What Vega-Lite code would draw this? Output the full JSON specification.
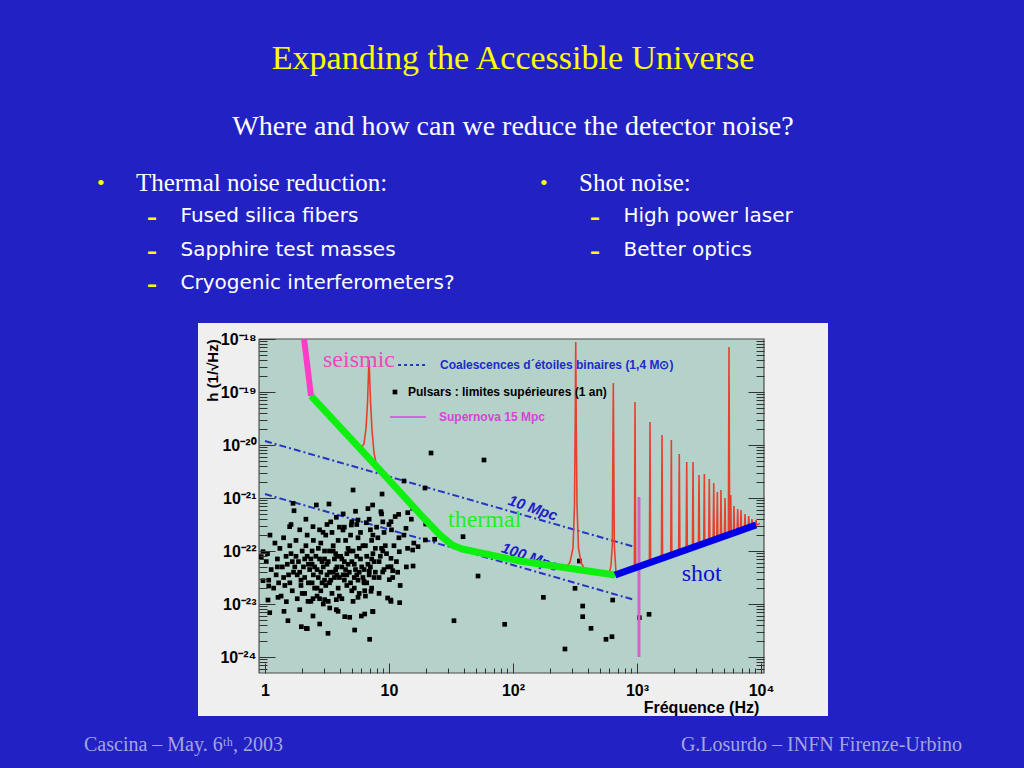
{
"$schema": "https://vega.github.io/schema/vega-lite/v6.json",
"background": "#2222c4",
"padding": {"left": 64, "top": 42, "right": 100, "bottom": 40},
"config": {"view": {"stroke": null}, "font": "Liberation Sans"},
"title": {"text": "Expanding the Accessible Universe", "subtitle": "Where and how can we reduce the detector noise?", "anchor": "middle", "font": "Liberation Serif", "fontSize": 34, "fontWeight": "normal", "color": "#ffff00", "subtitleFont": "Liberation Serif", "subtitleFontSize": 28, "subtitleColor": "#ffffff", "subtitlePadding": 37, "offset": 30},
"spacing": 20,
"center": true,
"bounds": "flush",
"datasets": {
"bullets": [
{"col": "left", "line": 0, "level": 1, "text": "Thermal noise reduction:"},
{"col": "left", "line": 1, "level": 2, "text": "Fused silica fibers"},
{"col": "left", "line": 2, "level": 2, "text": "Sapphire test masses"},
{"col": "left", "line": 3, "level": 2, "text": "Cryogenic interferometers?"},
{"col": "right", "line": 0, "level": 1, "text": "Shot noise:"},
{"col": "right", "line": 1, "level": 2, "text": "High power laser"},
{"col": "right", "line": 2, "level": 2, "text": "Better optics"}
],
"footer": [
{"side": "left", "text": "Cascina – May. 6ᵗʰ, 2003"},
{"side": "right", "text": "G.Losurdo – INFN Firenze-Urbino"}
],
"frame": [{"f0": -0.048, "f1": 4.024, "h0": -24.302, "h1": -18.0}],
"mpc": [
{"dist": "10 Mpc", "logf": 0, "logh": -19.925},
{"dist": "10 Mpc", "logf": 2.984, "logh": -21.925},
{"dist": "100 Mpc", "logf": 0, "logh": -20.925},
{"dist": "100 Mpc", "logf": 2.984, "logh": -22.925}
],
"mpclabels": [
{"label": "10 Mpc", "logf": 2.161, "logh": -21.189},
{"label": "100 Mpc", "logf": 2.137, "logh": -22.113}
],
"pulsars": [
{"logf":1.339,"logh":-20.151},{"logf":1.766,"logh":-20.283},{"logf":1.121,"logh":-20.679},{"logf":1.29,"logh":-20.811},{"logf":0.71,"logh":-20.849},{"logf":0.944,"logh":-20.925},
{"logf":2.535,"logh":-22.189},{"logf":2.5,"logh":-22.704},{"logf":2.245,"logh":-22.874},{"logf":2.562,"logh":-23.038},{"logf":2.804,"logh":-22.925},{"logf":2.562,"logh":-23.239},{"logf":2.629,"logh":-23.459},{"logf":2.75,"logh":-23.666},{"logf":2.798,"logh":-23.617},{"logf":2.419,"logh":-23.849},{"logf":3.097,"logh":-23.194},{"logf":3.019,"logh":-23.258},
{"logf":1.718,"logh":-22.472},{"logf":1.524,"logh":-23.315},{"logf":1.933,"logh":-23.383},{"logf":1.597,"logh":-21.73},{"logf":1.368,"logh":-21.779},{"logf":1.296,"logh":-21.491},{"logf":1.234,"logh":-21.918},{"logf":1.194,"logh":-22.283},{"logf":1.086,"logh":-22.975},{"logf":1.014,"logh":-22.925},{"logf":0.844,"logh":-23.666},{"logf":0.723,"logh":-23.491},{"logf":0.508,"logh":-23.553},{"logf":0.333,"logh":-23.459},{"logf":0.293,"logh":-23.428},{"logf":0.441,"logh":-23.377},{"logf":0.185,"logh":-23.315},{"logf":0.387,"logh":-23.226},{"logf":0.643,"logh":-23.239},{"logf":0.683,"logh":-23.251},{"logf":0.777,"logh":-23.226},{"logf":0.804,"logh":-23.189},{"logf":0.871,"logh":-23.145},{"logf":0.038,"logh":-23.164},{"logf":0.105,"logh":-22.874},{"logf":0.024,"logh":-22.925},{"logf":0.172,"logh":-22.956},{"logf":-0.016,"logh":-22.56},{"logf":0.03,"logh":-22.66},{"logf":-0.03,"logh":-22.107},{"logf":-0.016,"logh":-22.013},
{"logf":0.226,"logh":-21.1},{"logf":0.234,"logh":-21.24},{"logf":0.414,"logh":-21.132},{"logf":0.516,"logh":-21.113},{"logf":0.575,"logh":-21.364},{"logf":0.199,"logh":-21.541},{"logf":0.387,"logh":-21.541},{"logf":0.468,"logh":-21.647},{"logf":0.629,"logh":-21.604},{"logf":0.696,"logh":-21.509},{"logf":0.75,"logh":-21.415},{"logf":0.817,"logh":-21.466},
{"logf":0.868,"logh":-21.132},{"logf":0.935,"logh":-21.258},{"logf":1.078,"logh":-21.308},{"logf":1.151,"logh":-21.277},{"logf":1.191,"logh":-21.194},{"logf":1.016,"logh":-21.447},{"logf":1.137,"logh":-21.572},{"logf":1.293,"logh":-21.792},{"logf":1.191,"logh":-21.981},{"logf":1.083,"logh":-22.013},{"logf":1.016,"logh":-22.138},{"logf":1.016,"logh":-22.296},
{"logf":0.841,"logh":-22.383},{"logf":0.949,"logh":-22.396},{"logf":1.03,"logh":-22.372},{"logf":1.003,"logh":-22.541},{"logf":0.855,"logh":-22.76},{"logf":0.989,"logh":-22.887},{"logf":1.016,"logh":-22.95},{"logf":0.868,"logh":-23.138},
{"logf":0.153,"logh":-23.138},{"logf":0.28,"logh":-23.107},{"logf":0.341,"logh":-23.465},{"logf":0.575,"logh":-22.918},{"logf":0.575,"logh":-23.107},{"logf":0.75,"logh":-22.874},{"logf":0.804,"logh":-22.749},{"logf":0.798,"logh":-22.572},{"logf":0.347,"logh":-22.95},{"logf":0.387,"logh":-22.899},{"logf":0.481,"logh":-22.918},{"logf":0.522,"logh":-23.075},{"logf":0.589,"logh":-23.138},
{"logf":0.02,"logh":-22.05},{"logf":0.05,"logh":-22.35},{"logf":0.08,"logh":-21.85},{"logf":0.03,"logh":-22.55},{"logf":0.07,"logh":-22.7},{"logf":0.01,"logh":-22.2},{"logf":0.09,"logh":-22.45},{"logf":0.04,"logh":-21.7},{"logf":0.1,"logh":-22.15},
{"logf":0.12,"logh":-21.95},{"logf":0.14,"logh":-22.3},{"logf":0.17,"logh":-22.1},{"logf":0.11,"logh":-22.6},{"logf":0.19,"logh":-22.45},{"logf":0.15,"logh":-21.75},{"logf":0.13,"logh":-22.85},{"logf":0.18,"logh":-22.25},{"logf":0.16,"logh":-22.65},{"logf":0.2,"logh":-21.9},
{"logf":0.21,"logh":-22.05},{"logf":0.23,"logh":-22.4},{"logf":0.25,"logh":-21.8},{"logf":0.27,"logh":-22.2},{"logf":0.29,"logh":-22.55},{"logf":0.22,"logh":-22.75},{"logf":0.26,"logh":-22.9},{"logf":0.28,"logh":-21.6},{"logf":0.24,"logh":-22.3},{"logf":0.3,"logh":-22.0},{"logf":0.21,"logh":-21.5},{"logf":0.29,"logh":-22.65},{"logf":0.25,"logh":-22.1},
{"logf":0.31,"logh":-22.3},{"logf":0.33,"logh":-21.9},{"logf":0.35,"logh":-22.6},{"logf":0.37,"logh":-22.15},{"logf":0.39,"logh":-22.45},{"logf":0.32,"logh":-22.8},{"logf":0.34,"logh":-21.7},{"logf":0.36,"logh":-22.35},{"logf":0.38,"logh":-22.0},{"logf":0.4,"logh":-22.7},{"logf":0.33,"logh":-21.4},{"logf":0.37,"logh":-22.95},{"logf":0.39,"logh":-21.8},{"logf":0.32,"logh":-22.5},{"logf":0.38,"logh":-22.25},
{"logf":0.41,"logh":-22.1},{"logf":0.43,"logh":-22.5},{"logf":0.45,"logh":-21.85},{"logf":0.47,"logh":-22.3},{"logf":0.49,"logh":-22.65},{"logf":0.42,"logh":-22.85},{"logf":0.44,"logh":-21.6},{"logf":0.46,"logh":-22.2},{"logf":0.48,"logh":-22.0},{"logf":0.5,"logh":-22.45},{"logf":0.45,"logh":-22.75},{"logf":0.43,"logh":-21.95},{"logf":0.47,"logh":-23.0},{"logf":0.49,"logh":-21.7},{"logf":0.42,"logh":-22.35},{"logf":0.48,"logh":-22.55},{"logf":0.44,"logh":-22.9},{"logf":0.5,"logh":-21.5},
{"logf":0.51,"logh":-22.2},{"logf":0.53,"logh":-22.55},{"logf":0.55,"logh":-21.9},{"logf":0.57,"logh":-22.35},{"logf":0.59,"logh":-22.7},{"logf":0.52,"logh":-22.0},{"logf":0.54,"logh":-21.65},{"logf":0.56,"logh":-22.15},{"logf":0.58,"logh":-22.45},{"logf":0.6,"logh":-22.85},{"logf":0.51,"logh":-22.95},{"logf":0.53,"logh":-21.45},{"logf":0.57,"logh":-22.05},{"logf":0.59,"logh":-21.8},{"logf":0.52,"logh":-22.6},{"logf":0.58,"logh":-22.3},{"logf":0.54,"logh":-22.8},{"logf":0.6,"logh":-21.55},{"logf":0.55,"logh":-22.4},
{"logf":0.61,"logh":-22.1},{"logf":0.63,"logh":-22.45},{"logf":0.65,"logh":-21.8},{"logf":0.67,"logh":-22.25},{"logf":0.69,"logh":-22.6},{"logf":0.62,"logh":-22.9},{"logf":0.64,"logh":-21.55},{"logf":0.66,"logh":-22.05},{"logf":0.68,"logh":-22.4},{"logf":0.7,"logh":-22.75},{"logf":0.63,"logh":-21.3},{"logf":0.67,"logh":-21.95},{"logf":0.69,"logh":-21.7},{"logf":0.62,"logh":-22.3},{"logf":0.66,"logh":-22.65},{"logf":0.64,"logh":-22.2},{"logf":0.7,"logh":-21.45},
{"logf":0.71,"logh":-22.0},{"logf":0.73,"logh":-22.35},{"logf":0.75,"logh":-21.75},{"logf":0.77,"logh":-22.15},{"logf":0.79,"logh":-22.5},{"logf":0.72,"logh":-22.7},{"logf":0.74,"logh":-21.5},{"logf":0.76,"logh":-21.95},{"logf":0.78,"logh":-22.3},{"logf":0.8,"logh":-22.6},{"logf":0.71,"logh":-22.95},{"logf":0.73,"logh":-21.25},{"logf":0.77,"logh":-21.65},{"logf":0.79,"logh":-21.9},{"logf":0.72,"logh":-22.25},{"logf":0.76,"logh":-22.8},{"logf":0.74,"logh":-22.45},
{"logf":0.81,"logh":-21.9},{"logf":0.83,"logh":-22.25},{"logf":0.85,"logh":-21.6},{"logf":0.87,"logh":-22.05},{"logf":0.89,"logh":-22.4},{"logf":0.82,"logh":-22.6},{"logf":0.84,"logh":-21.4},{"logf":0.86,"logh":-21.8},{"logf":0.88,"logh":-22.2},{"logf":0.9,"logh":-21.55},{"logf":0.81,"logh":-22.85},{"logf":0.83,"logh":-21.2},{"logf":0.87,"logh":-21.7},{"logf":0.89,"logh":-21.95},{"logf":0.84,"logh":-22.45},{"logf":0.86,"logh":-22.7},
{"logf":0.91,"logh":-21.75},{"logf":0.93,"logh":-22.1},{"logf":0.95,"logh":-21.45},{"logf":0.97,"logh":-21.9},{"logf":0.99,"logh":-22.3},{"logf":0.92,"logh":-22.5},{"logf":0.94,"logh":-21.3},{"logf":0.96,"logh":-21.65},{"logf":0.98,"logh":-22.05},{"logf":1.0,"logh":-21.5},{"logf":0.92,"logh":-22.8},{"logf":0.96,"logh":-22.35},{"logf":0.94,"logh":-21.95},
{"logf":1.02,"logh":-21.6},{"logf":1.04,"logh":-21.9},{"logf":1.06,"logh":-22.2},{"logf":1.03,"logh":-22.5},{"logf":1.05,"logh":-21.35},{"logf":1.08,"logh":-21.75},{"logf":1.07,"logh":-22.4},{"logf":1.09,"logh":-22.65},
{"logf":1.12,"logh":-21.7},{"logf":1.15,"logh":-21.95},{"logf":1.18,"logh":-21.4},{"logf":1.14,"logh":-22.3},{"logf":1.2,"logh":-21.85},
{"logf":0.15,"logh":-22.5},{"logf":0.22,"logh":-22.2},{"logf":0.28,"logh":-22.4},{"logf":0.34,"logh":-22.1},{"logf":0.4,"logh":-22.3},{"logf":0.46,"logh":-22.6},{"logf":0.52,"logh":-22.4},{"logf":0.58,"logh":-22.1},{"logf":0.64,"logh":-22.55},{"logf":0.7,"logh":-22.2},{"logf":0.76,"logh":-22.4},{"logf":0.82,"logh":-22.1},{"logf":0.88,"logh":-22.5},{"logf":0.2,"logh":-22.6},{"logf":0.26,"logh":-22.45},{"logf":0.32,"logh":-22.15},{"logf":0.38,"logh":-22.6},{"logf":0.44,"logh":-22.15},{"logf":0.5,"logh":-22.25},{"logf":0.56,"logh":-22.5},{"logf":0.62,"logh":-22.15},{"logf":0.68,"logh":-22.0},{"logf":0.74,"logh":-22.1},{"logf":0.8,"logh":-22.35},{"logf":0.86,"logh":-22.15},{"logf":0.92,"logh":-22.2},{"logf":0.1,"logh":-22.3},{"logf":0.35,"logh":-22.25},{"logf":0.45,"logh":-22.4},{"logf":0.55,"logh":-22.0},{"logf":0.65,"logh":-22.35},{"logf":0.75,"logh":-22.55},{"logf":0.85,"logh":-22.3},{"logf":0.95,"logh":-22.0},{"logf":0.3,"logh":-22.8},{"logf":0.42,"logh":-22.7},{"logf":0.6,"logh":-22.5},{"logf":0.72,"logh":-22.5},{"logf":0.48,"logh":-22.15},{"logf":0.66,"logh":-22.45}
],
"virgo": [
{"logf":0.306,"logh":-18.0},{"logf":0.371,"logh":-19.075},{"logf":0.444,"logh":-19.27},{"logf":0.605,"logh":-19.68},{"logf":0.726,"logh":-19.99},{"logf":0.766,"logh":-20.09},{"logf":0.798,"logh":-19.98},{"logf":0.815,"logh":-19.68},{"logf":0.827,"logh":-19.19},{"logf":0.835,"logh":-18.62},{"logf":0.839,"logh":-18.396},{"logf":0.843,"logh":-18.66},{"logf":0.851,"logh":-19.19},{"logf":0.863,"logh":-19.72},{"logf":0.879,"logh":-20.15},{"logf":0.903,"logh":-20.43},{"logf":1.089,"logh":-20.85},{"logf":1.25,"logh":-21.28},{"logf":1.411,"logh":-21.66},{"logf":1.532,"logh":-21.9},{"logf":1.653,"logh":-22.03},{"logf":1.895,"logh":-22.15},{"logf":2.218,"logh":-22.27},{"logf":2.419,"logh":-22.33},{"logf":2.46,"logh":-22.21},{"logf":2.484,"logh":-21.94},{"logf":2.496,"logh":-21.13},{"logf":2.502,"logh":-19.53},{"logf":2.506,"logh":-18.057},{"logf":2.51,"logh":-19.53},{"logf":2.516,"logh":-21.13},{"logf":2.528,"logh":-21.94},{"logf":2.548,"logh":-22.21},{"logf":2.581,"logh":-22.36},{"logf":2.702,"logh":-22.42},{"logf":2.774,"logh":-22.44},{"logf":2.79,"logh":-22.28},{"logf":2.801,"logh":-21.887},{"logf":2.809,"logh":-18.83},{"logf":2.817,"logh":-21.887},{"logf":2.831,"logh":-22.42},
{"logf":2.979,"logh":-22.319},{"logf":2.984,"logh":-19.189},{"logf":2.989,"logh":-22.319},
{"logf":3.1,"logh":-22.219},{"logf":3.105,"logh":-19.566},{"logf":3.11,"logh":-22.219},
{"logf":3.197,"logh":-22.138},{"logf":3.202,"logh":-19.811},{"logf":3.206,"logh":-22.138},
{"logf":3.272,"logh":-22.075},{"logf":3.277,"logh":-19.906},{"logf":3.281,"logh":-22.075},
{"logf":3.336,"logh":-22.023},{"logf":3.341,"logh":-20.17},{"logf":3.346,"logh":-22.023},
{"logf":3.396,"logh":-21.974},{"logf":3.401,"logh":-20.321},{"logf":3.406,"logh":-21.974},
{"logf":3.447,"logh":-21.93},{"logf":3.452,"logh":-20.321},{"logf":3.456,"logh":-21.93},
{"logf":3.495,"logh":-21.891},{"logf":3.5,"logh":-20.566},{"logf":3.505,"logh":-21.891},
{"logf":3.538,"logh":-21.855},{"logf":3.543,"logh":-20.547},{"logf":3.547,"logh":-21.855},
{"logf":3.578,"logh":-21.823},{"logf":3.583,"logh":-20.642},{"logf":3.588,"logh":-21.823},
{"logf":3.614,"logh":-21.792},{"logf":3.619,"logh":-20.717},{"logf":3.623,"logh":-21.792},
{"logf":3.643,"logh":-21.768},{"logf":3.648,"logh":-20.887},{"logf":3.652,"logh":-21.768},
{"logf":3.673,"logh":-21.743},{"logf":3.677,"logh":-20.849},{"logf":3.682,"logh":-21.743},
{"logf":3.705,"logh":-21.717},{"logf":3.71,"logh":-21.0},{"logf":3.714,"logh":-21.717},
{"logf":3.737,"logh":-21.691},{"logf":3.742,"logh":-18.151},{"logf":3.747,"logh":-21.691},
{"logf":3.751,"logh":-21.679},{"logf":3.756,"logh":-20.943},{"logf":3.76,"logh":-21.679},
{"logf":3.778,"logh":-21.657},{"logf":3.782,"logh":-21.151},{"logf":3.787,"logh":-21.657},
{"logf":3.807,"logh":-21.632},{"logf":3.812,"logh":-21.208},{"logf":3.817,"logh":-21.632},
{"logf":3.834,"logh":-21.609},{"logf":3.839,"logh":-21.226},{"logf":3.843,"logh":-21.609},
{"logf":3.866,"logh":-21.583},{"logf":3.871,"logh":-21.302},{"logf":3.876,"logh":-21.583},
{"logf":3.896,"logh":-21.558},{"logf":3.901,"logh":-21.34},{"logf":3.906,"logh":-21.558},
{"logf":3.923,"logh":-21.536},{"logf":3.927,"logh":-21.396},{"logf":3.932,"logh":-21.536},
{"logf":3.955,"logh":-21.509},{"logf":3.96,"logh":-21.415},{"logf":3.964,"logh":-21.509},
{"logf":3.992,"logh":-21.483}
],
"seismic": [{"logf": 0.315, "logh": -18.0}, {"logf": 0.371, "logh": -19.075}],
"thermal": [{"logf":0.371,"logh":-19.075},{"logf":0.927,"logh":-20.472},{"logf":1.25,"logh":-21.302},{"logf":1.411,"logh":-21.698},{"logf":1.508,"logh":-21.887},{"logf":1.589,"logh":-21.962},{"logf":2.056,"logh":-22.189},{"logf":2.823,"logh":-22.453}],
"shot": [{"logf": 2.823, "logh": -22.453}, {"logf": 3.96, "logh": -21.509}],
"supernova": [{"logf": 3.016, "top": -20.981, "bottom": -24.0}],
"legcoal": [{"logf": 1.073, "logh": -18.491}, {"logf": 1.306, "logh": -18.491}],
"legsn": [{"logf": 1.008, "logh": -19.472}, {"logf": 1.298, "logh": -19.472}],
"legpulsar": [{"logf": 1.048, "logh": -19.0}],
"legtext": [
{"item": "coalescence", "text": "Coalescences d´étoiles binaires (1,4 M⊙)", "logf": 1.411, "logh": -18.491},
{"item": "pulsar", "text": "Pulsars : limites supérieures (1 an)", "logf": 1.153, "logh": -19.0},
{"item": "supernova", "text": "Supernova 15 Mpc", "logf": 1.403, "logh": -19.472}
],
"annot": [
{"item": "seismic", "text": "seismic", "logf": 0.468, "logh": -18.534},
{"item": "thermal", "text": "thermal", "logf": 1.476, "logh": -21.541},
{"item": "shot", "text": "shot", "logf": 3.36, "logh": -22.566}
]
},
"vconcat": [
{
"width": 898, "height": 120,
"data": {"name": "bullets"},
"encoding": {
"x": {"field": "col", "type": "nominal", "scale": {"type": "point", "domain": ["left", "right"], "range": [72, 515], "padding": 0}, "axis": null},
"y": {"field": "line", "type": "quantitative", "scale": {"domain": [0, 3.593], "reverse": true, "nice": false, "zero": false}, "axis": null}
},
"layer": [
{"transform": [{"filter": "datum.level == 1"}], "mark": {"type": "text", "text": "•", "align": "left", "baseline": "middle", "dx": -39, "font": "Liberation Serif", "fontSize": 22, "color": "#ffff00"}},
{"transform": [{"filter": "datum.level == 1"}], "mark": {"type": "text", "align": "left", "baseline": "middle", "font": "Liberation Serif", "fontSize": 25, "color": "#ffffff"}, "encoding": {"text": {"field": "text"}}},
{"transform": [{"filter": "datum.level == 2"}], "mark": {"type": "text", "text": "–", "align": "left", "baseline": "middle", "dx": 11, "dy": 2, "font": "DejaVu Sans", "fontSize": 20, "fontWeight": "bold", "color": "#ffff00"}},
{"transform": [{"filter": "datum.level == 2"}], "mark": {"type": "text", "align": "left", "baseline": "middle", "dx": 44.5, "font": "DejaVu Sans", "fontSize": 20, "color": "#ffffff"}, "encoding": {"text": {"field": "text"}}}
]
},
{
"width": 630, "height": 393,
"view": {"fill": "#efefef", "stroke": null},
"resolve": {"axis": {"x": "independent", "y": "independent"}},
"layer": [
{"data": {"name": "frame"}, "mark": {"type": "rect", "fill": "#b4d2c9", "stroke": "#4a4a4a", "strokeWidth": 1.2},
"encoding": {
"x": {"field": "f0", "type": "quantitative", "scale": {"domain": [-0.5403, 4.5403], "nice": false, "zero": false},
"axis": {"orient": "bottom", "offset": -43, "values": [0, 1, 2, 3, 4], "labelExpr": "['1','10','10²','10³','10⁴'][datum.value]", "domain": false, "grid": false, "tickSize": -10, "tickColor": "#333333", "tickWidth": 1, "labelFont": "Liberation Sans", "labelFontSize": 16, "labelFontWeight": "bold", "labelColor": "#000000", "labelBaseline": "middle", "labelPadding": 27, "labelFlush": false, "labelOverlap": false, "labelBound": false, "title": "Fréquence (Hz)", "titleFont": "Liberation Sans", "titleFontSize": 16, "titleFontWeight": "bold", "titleColor": "#000000", "titleX": 503, "titleY": 34, "titleAlign": "center", "titleBaseline": "middle", "zindex": 1}},
"x2": {"field": "f1"},
"y": {"field": "h0", "type": "quantitative", "scale": {"domain": [-25.113, -17.698], "nice": false, "zero": false},
"axis": {"orient": "left", "offset": -61, "values": [-24, -23, -22, -21, -20, -19, -18], "labelExpr": "'10⁻' + ['¹⁸','¹⁹','²⁰','²¹','²²','²³','²⁴'][-datum.value - 18]", "domain": false, "grid": false, "tickSize": -16, "tickColor": "#333333", "tickWidth": 1, "labelFont": "Liberation Sans", "labelFontSize": 16, "labelFontWeight": "bold", "labelColor": "#000000", "labelAlign": "right", "labelBaseline": "middle", "labelPadding": 19, "labelFlush": false, "labelOverlap": false, "title": "h (1/√Hz)", "titleFont": "Liberation Sans", "titleFontSize": 15, "titleFontWeight": "bold", "titleColor": "#000000", "titleX": -47, "titleY": 47, "titleAngle": -90, "titleAlign": "center", "titleBaseline": "middle", "zindex": 1}},
"y2": {"field": "h1"}
}},
{"data": {"name": "mpc"}, "mark": {"type": "line", "color": "#2a34c4", "strokeWidth": 2, "strokeDash": [7, 3, 2, 3]},
"encoding": {
"x": {"field": "logf", "type": "quantitative", "scale": {"domain": [-0.5403, 4.5403], "nice": false, "zero": false},
"axis": {"orient": "bottom", "offset": -43, "values": [0.301,0.477,0.602,0.699,0.778,0.845,0.903,0.954,1.301,1.477,1.602,1.699,1.778,1.845,1.903,1.954,2.301,2.477,2.602,2.699,2.778,2.845,2.903,2.954,3.301,3.477,3.602,3.699,3.778,3.845,3.903,3.954], "labels": false, "domain": false, "grid": false, "tickSize": -5, "tickColor": "#333333", "tickWidth": 1, "title": null, "zindex": 1}},
"y": {"field": "logh", "type": "quantitative", "scale": {"domain": [-25.113, -17.698], "nice": false, "zero": false},
"axis": {"orient": "left", "offset": -61, "values": [-24.222,-24.155,-24.097,-24.046,-23.699,-23.523,-23.398,-23.301,-23.222,-23.155,-23.097,-23.046,-22.699,-22.523,-22.398,-22.301,-22.222,-22.155,-22.097,-22.046,-21.699,-21.523,-21.398,-21.301,-21.222,-21.155,-21.097,-21.046,-20.699,-20.523,-20.398,-20.301,-20.222,-20.155,-20.097,-20.046,-19.699,-19.523,-19.398,-19.301,-19.222,-19.155,-19.097,-19.046,-18.699,-18.523,-18.398,-18.301,-18.222,-18.155,-18.097,-18.046], "labels": false, "domain": false, "grid": false, "tickSize": -8, "tickColor": "#333333", "tickWidth": 1, "title": null, "zindex": 1}},
"detail": {"field": "dist"}
}},
{"data": {"name": "mpclabels"}, "mark": {"type": "text", "angle": 19, "font": "Liberation Sans", "fontSize": 15, "fontWeight": "bold", "fontStyle": "italic", "color": "#2020c8"},
"encoding": {
"x": {"field": "logf", "type": "quantitative", "scale": {"domain": [-0.5403, 4.5403], "nice": false, "zero": false}, "axis": null},
"y": {"field": "logh", "type": "quantitative", "scale": {"domain": [-25.113, -17.698], "nice": false, "zero": false},
"axis": {"orient": "right", "offset": -64, "values": [-24, -23, -22, -21, -20, -19], "labels": false, "domain": false, "grid": false, "tickSize": -16, "tickColor": "#333333", "tickWidth": 1, "title": null, "zindex": 1}},
"text": {"field": "label"}
}},
{"data": {"name": "pulsars"}, "mark": {"type": "point", "shape": "square", "filled": true, "size": 22, "color": "#000000", "opacity": 1},
"encoding": {
"x": {"field": "logf", "type": "quantitative", "scale": {"domain": [-0.5403, 4.5403], "nice": false, "zero": false}, "axis": null},
"y": {"field": "logh", "type": "quantitative", "scale": {"domain": [-25.113, -17.698], "nice": false, "zero": false},
"axis": {"orient": "right", "offset": -64, "values": [-24.222,-24.155,-24.097,-24.046,-23.699,-23.523,-23.398,-23.301,-23.222,-23.155,-23.097,-23.046,-22.699,-22.523,-22.398,-22.301,-22.222,-22.155,-22.097,-22.046,-21.699,-21.523,-21.398,-21.301,-21.222,-21.155,-21.097,-21.046,-20.699,-20.523,-20.398,-20.301,-20.222,-20.155,-20.097,-20.046,-19.699,-19.523,-19.398,-19.301,-19.222,-19.155,-19.097,-19.046,-18.699,-18.523,-18.398,-18.301,-18.222,-18.155,-18.097,-18.046], "labels": false, "domain": false, "grid": false, "tickSize": -8, "tickColor": "#333333", "tickWidth": 1, "title": null, "zindex": 1}}
}},
{"data": {"name": "virgo"}, "mark": {"type": "line", "color": "#e8402e", "strokeWidth": 1.6},
"encoding": {
"x": {"field": "logf", "type": "quantitative", "scale": {"domain": [-0.5403, 4.5403], "nice": false, "zero": false}, "axis": null},
"y": {"field": "logh", "type": "quantitative", "scale": {"domain": [-25.113, -17.698], "nice": false, "zero": false}, "axis": null}
}},
{"data": {"name": "supernova"}, "mark": {"type": "rule", "color": "#cc66cc", "strokeWidth": 3},
"encoding": {
"x": {"field": "logf", "type": "quantitative", "scale": {"domain": [-0.5403, 4.5403], "nice": false, "zero": false}, "axis": null},
"y": {"field": "top", "type": "quantitative", "scale": {"domain": [-25.113, -17.698], "nice": false, "zero": false}, "axis": null},
"y2": {"field": "bottom"}
}},
{"data": {"name": "thermal"}, "mark": {"type": "line", "color": "#10f010", "strokeWidth": 7, "strokeJoin": "round"},
"encoding": {
"x": {"field": "logf", "type": "quantitative", "scale": {"domain": [-0.5403, 4.5403], "nice": false, "zero": false}, "axis": null},
"y": {"field": "logh", "type": "quantitative", "scale": {"domain": [-25.113, -17.698], "nice": false, "zero": false}, "axis": null}
}},
{"data": {"name": "seismic"}, "mark": {"type": "line", "color": "#ff3cc8", "strokeWidth": 6},
"encoding": {
"x": {"field": "logf", "type": "quantitative", "scale": {"domain": [-0.5403, 4.5403], "nice": false, "zero": false}, "axis": null},
"y": {"field": "logh", "type": "quantitative", "scale": {"domain": [-25.113, -17.698], "nice": false, "zero": false}, "axis": null}
}},
{"data": {"name": "shot"}, "mark": {"type": "line", "color": "#0000e6", "strokeWidth": 7},
"encoding": {
"x": {"field": "logf", "type": "quantitative", "scale": {"domain": [-0.5403, 4.5403], "nice": false, "zero": false}, "axis": null},
"y": {"field": "logh", "type": "quantitative", "scale": {"domain": [-25.113, -17.698], "nice": false, "zero": false}, "axis": null}
}},
{"data": {"name": "legcoal"}, "mark": {"type": "line", "color": "#2a34c4", "strokeWidth": 2, "strokeDash": [3, 3]},
"encoding": {
"x": {"field": "logf", "type": "quantitative", "scale": {"domain": [-0.5403, 4.5403], "nice": false, "zero": false}, "axis": null},
"y": {"field": "logh", "type": "quantitative", "scale": {"domain": [-25.113, -17.698], "nice": false, "zero": false}, "axis": null}
}},
{"data": {"name": "legsn"}, "mark": {"type": "line", "color": "#dd44dd", "strokeWidth": 1.5},
"encoding": {
"x": {"field": "logf", "type": "quantitative", "scale": {"domain": [-0.5403, 4.5403], "nice": false, "zero": false}, "axis": null},
"y": {"field": "logh", "type": "quantitative", "scale": {"domain": [-25.113, -17.698], "nice": false, "zero": false}, "axis": null}
}},
{"data": {"name": "legpulsar"}, "mark": {"type": "point", "shape": "square", "filled": true, "size": 22, "color": "#000000", "opacity": 1},
"encoding": {
"x": {"field": "logf", "type": "quantitative", "scale": {"domain": [-0.5403, 4.5403], "nice": false, "zero": false}, "axis": null},
"y": {"field": "logh", "type": "quantitative", "scale": {"domain": [-25.113, -17.698], "nice": false, "zero": false}, "axis": null}
}},
{"data": {"name": "legtext"}, "mark": {"type": "text", "align": "left", "baseline": "middle", "font": "Liberation Sans", "fontSize": 12, "fontWeight": "bold"},
"encoding": {
"x": {"field": "logf", "type": "quantitative", "scale": {"domain": [-0.5403, 4.5403], "nice": false, "zero": false}, "axis": null},
"y": {"field": "logh", "type": "quantitative", "scale": {"domain": [-25.113, -17.698], "nice": false, "zero": false}, "axis": null},
"text": {"field": "text"},
"color": {"field": "item", "type": "nominal", "scale": {"domain": ["coalescence", "pulsar", "supernova", "seismic", "thermal", "shot"], "range": ["#1c2cc8", "#000000", "#d844d8", "#f048c0", "#1ef01e", "#1010d0"]}, "legend": null}
}},
{"data": {"name": "annot"}, "mark": {"type": "text", "align": "left", "baseline": "alphabetic", "font": "Liberation Serif", "fontSize": 24},
"encoding": {
"x": {"field": "logf", "type": "quantitative", "scale": {"domain": [-0.5403, 4.5403], "nice": false, "zero": false}, "axis": null},
"y": {"field": "logh", "type": "quantitative", "scale": {"domain": [-25.113, -17.698], "nice": false, "zero": false}, "axis": null},
"text": {"field": "text"},
"color": {"field": "item", "type": "nominal", "scale": {"domain": ["coalescence", "pulsar", "supernova", "seismic", "thermal", "shot"], "range": ["#1c2cc8", "#000000", "#d844d8", "#f048c0", "#1ef01e", "#1010d0"]}, "legend": null}
}}
]
},
{
"width": 898, "height": 18,
"data": {"name": "footer"},
"encoding": {
"x": {"field": "side", "type": "nominal", "scale": {"type": "point", "domain": ["left", "right"], "range": [20, 898], "padding": 0}, "axis": null}
},
"layer": [
{"transform": [{"filter": "datum.side == 'left'"}], "mark": {"type": "text", "align": "left", "baseline": "middle", "font": "Liberation Serif", "fontSize": 20, "color": "#a4a4e0"}, "encoding": {"text": {"field": "text"}}},
{"transform": [{"filter": "datum.side == 'right'"}], "mark": {"type": "text", "align": "right", "baseline": "middle", "font": "Liberation Serif", "fontSize": 20, "color": "#a4a4e0"}, "encoding": {"text": {"field": "text"}}}
]
}
]
}
